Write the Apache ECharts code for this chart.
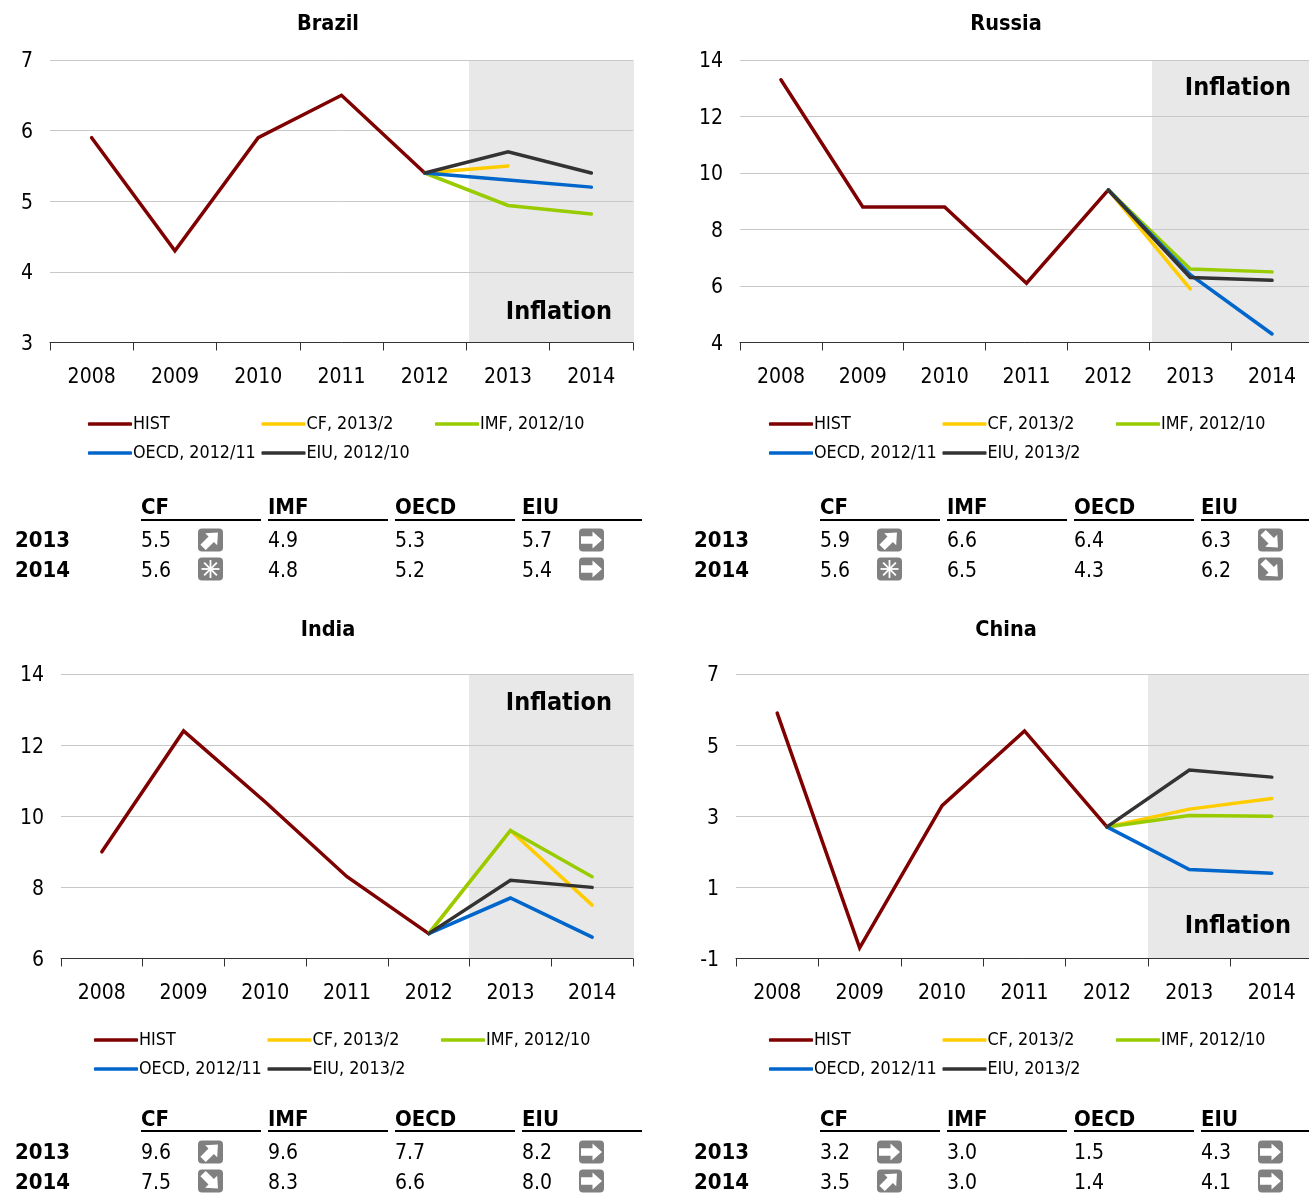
<!DOCTYPE html>
<html><head><meta charset="utf-8">
<style>html,body{margin:0;padding:0;background:#fff;overflow:hidden}#c{width:1309px;height:1193px}</style>
<script src="https://cdn.jsdelivr.net/npm/echarts@6/dist/echarts.min.js"></script>
</head><body><div id="c"></div>
<script>
const years = ['2008','2009','2010','2011','2012','2013','2014'];
const sources = ['CF','IMF','OECD','EIU'];
const rowYears = ['2013','2014'];

const brazilHist = [5.9,4.3,5.9,6.5,5.4,null,null];
const brazilCF   = [null,null,null,null,5.4,5.5,null];
const brazilIMF  = [null,null,null,null,5.4,4.94,4.82];
const brazilOECD = [null,null,null,null,5.4,5.3,5.2];
const brazilEIU  = [null,null,null,null,5.4,5.7,5.4];
const brazilTable = [['5.5','4.9','5.3','5.7'],['5.6','4.8','5.2','5.4']];
const brazilIcons = [['up',null,null,'flat'],['new',null,null,'flat']];
const brazilDates = ['HIST','CF, 2013/2','IMF, 2012/10','OECD, 2012/11','EIU, 2012/10'];

const russiaHist = [13.3,8.8,8.8,6.1,9.4,null,null];
const russiaCF   = [null,null,null,null,9.4,5.9,null];
const russiaIMF  = [null,null,null,null,9.4,6.6,6.5];
const russiaOECD = [null,null,null,null,9.4,6.4,4.3];
const russiaEIU  = [null,null,null,null,9.4,6.3,6.2];
const russiaTable = [['5.9','6.6','6.4','6.3'],['5.6','6.5','4.3','6.2']];
const russiaIcons = [['up',null,null,'down'],['new',null,null,'down']];
const russiaDates = ['HIST','CF, 2013/2','IMF, 2012/10','OECD, 2012/11','EIU, 2013/2'];

const indiaHist = [9.0,12.4,10.4,8.3,6.7,null,null];
const indiaCF   = [null,null,null,null,6.7,9.6,7.5];
const indiaIMF  = [null,null,null,null,6.7,9.6,8.3];
const indiaOECD = [null,null,null,null,6.7,7.7,6.6];
const indiaEIU  = [null,null,null,null,6.7,8.2,8.0];
const indiaTable = [['9.6','9.6','7.7','8.2'],['7.5','8.3','6.6','8.0']];
const indiaIcons = [['up',null,null,'flat'],['down',null,null,'flat']];
const indiaDates = ['HIST','CF, 2013/2','IMF, 2012/10','OECD, 2012/11','EIU, 2013/2'];

const chinaHist = [5.9,-0.7,3.3,5.4,2.7,null,null];
const chinaCF   = [null,null,null,null,2.7,3.2,3.5];
const chinaIMF  = [null,null,null,null,2.7,3.02,3.0];
const chinaOECD = [null,null,null,null,2.7,1.5,1.4];
const chinaEIU  = [null,null,null,null,2.7,4.3,4.1];
const chinaTable = [['3.2','3.0','1.5','4.3'],['3.5','3.0','1.4','4.1']];
const chinaIcons = [['flat',null,null,'flat'],['up',null,null,'flat']];
const chinaDates = ['HIST','CF, 2013/2','IMF, 2012/10','OECD, 2012/11','EIU, 2013/2'];

const lineColors = ['#7f0000','#ffcc00','#99cc00','#0066cc','#333333'];
const FONT = '"DejaVu Sans Condensed","DejaVu Sans",sans-serif';

const panels = [
 {name:'Brazil',cx:328,titleY:23,left:50,right:633,top:60,bottom:342.5,shade:469,min:3,max:7,ticks:[3,4,5,6,7],
  lines:[brazilHist,brazilCF,brazilIMF,brazilOECD,brazilEIU],labels:brazilDates,table:brazilTable,icons:brazilIcons,
  infX:612,infY:311,legX:88,legY:423,legDY:29,tabX:141,yearX:15,headY:507,lineY:520,row1:540,row2:570},
 {name:'Russia',cx:1006,titleY:23,left:740,right:1313,top:60,bottom:342.5,shade:1152,min:4,max:14,ticks:[4,6,8,10,12,14],
  lines:[russiaHist,russiaCF,russiaIMF,russiaOECD,russiaEIU],labels:russiaDates,table:russiaTable,icons:russiaIcons,
  infX:1291,infY:87,legX:769,legY:423,legDY:29,tabX:820,yearX:694,headY:507,lineY:520,row1:540,row2:570},
 {name:'India',cx:328,titleY:629,left:61,right:633,top:674,bottom:958.5,shade:469,min:6,max:14,ticks:[6,8,10,12,14],
  lines:[indiaHist,indiaCF,indiaIMF,indiaOECD,indiaEIU],labels:indiaDates,table:indiaTable,icons:indiaIcons,
  infX:612,infY:702,legX:94,legY:1039,legDY:29,tabX:141,yearX:15,headY:1119,lineY:1131,row1:1152,row2:1182},
 {name:'China',cx:1006,titleY:629,left:736,right:1313,top:674,bottom:958.5,shade:1148,min:-1,max:7,ticks:[-1,1,3,5,7],
  lines:[chinaHist,chinaCF,chinaIMF,chinaOECD,chinaEIU],labels:chinaDates,table:chinaTable,icons:chinaIcons,
  infX:1291,infY:925,legX:769,legY:1039,legDY:29,tabX:820,yearX:694,headY:1119,lineY:1131,row1:1152,row2:1182}
];

function icon(kind,x,y){
  const children=[{type:'rect',shape:{x:-12.5,y:-11.5,width:25,height:23,r:4},style:{fill:'#808080'}}];
  if(kind==='new'){
    for(let i=0;i<4;i++){
      children.push({type:'line',rotation:i*Math.PI/4,shape:{x1:-9,y1:0,x2:9,y2:0},style:{stroke:'#fff',lineWidth:1.8}});
    }
  }else{
    const rot={flat:0,up:Math.PI/4,down:-Math.PI/4}[kind];
    children.push({type:'polygon',rotation:rot,
      shape:{points:[[-10.5,-3.8],[1,-3.8],[1,-8.5],[10.5,0],[1,8.5],[1,3.8],[-10.5,3.8]]},style:{fill:'#fff'}});
  }
  return {type:'group',x,y,children};
}
function txt(text,x,y,size,bold,align){
  return {type:'text',x,y:y+(bold?1:2),z:5,style:{text,font:(bold?'bold ':'')+size+'px '+FONT,fill:'#000',
    textAlign:align||'left',textVerticalAlign:'middle'}};
}

const grid=[],xAxis=[],yAxis=[],series=[],legend=[],title=[],graphic=[];
panels.forEach((p,i)=>{
  grid.push({left:p.left,top:p.top,width:p.right-p.left,height:p.bottom-p.top,outerBoundsMode:'none',containLabel:false});
  xAxis.push({type:'category',gridIndex:i,data:years,boundaryGap:true,
    axisLine:{onZero:false,lineStyle:{color:'#333',width:1}},
    axisTick:{show:true,length:8,inside:false,alignWithLabel:false,lineStyle:{color:'#333'}},
    axisLabel:{interval:0,margin:25,fontSize:21,fontFamily:FONT,color:'#000'},splitLine:{show:false}});
  yAxis.push({type:'value',gridIndex:i,min:p.min,max:p.max,
    axisLine:{show:false},axisTick:{show:false,customValues:p.ticks},
    axisLabel:{customValues:p.ticks,margin:17,formatter:'{a|{value}}',
      rich:{a:{fontSize:21,fontFamily:FONT,color:'#000',padding:[4,0,0,0]}}},
    splitLine:{show:true,lineStyle:{color:'#c8c8c8',width:1}}});
  graphic.push({type:'rect',z:-1,shape:{x:p.shade,y:p.top,width:Math.min(p.right+1,1309)-p.shade,height:p.bottom-p.top},style:{fill:'#e8e8e8'}});
  p.lines.forEach((d,k)=>{
    series.push({name:p.labels[k],type:'line',xAxisIndex:i,yAxisIndex:i,data:d,symbol:'none',
      connectNulls:false,animation:false,z:3+k,
      lineStyle:{color:lineColors[k],width:3.5,cap:'round',join:'miter'},itemStyle:{color:lineColors[k]}});
    const col=k<3?k:k-3, row=k<3?0:1;
    legend.push({data:[{name:p.labels[k],icon:'roundRect',itemStyle:{color:lineColors[k]}}],selectedMode:false,
      left:p.legX+col*173.5,top:p.legY+row*p.legDY-8,padding:0,itemWidth:44,itemHeight:3.5,
      textStyle:{fontSize:17.8,fontFamily:FONT,color:'#000',padding:[3,0,0,-4]}});
  });
  title.push({text:p.name,left:p.cx,top:p.titleY-11,textAlign:'center',padding:0,
    textStyle:{fontSize:21.5,fontWeight:'bold',fontFamily:FONT,color:'#000',lineHeight:24}});
  graphic.push(txt('Inflation',p.infX,p.infY,25,true,'right'));
  sources.forEach((s,c)=>{
    const x=p.tabX+c*127;
    graphic.push(txt(s,x,p.headY,22,true));
    graphic.push({type:'line',shape:{x1:x,y1:p.lineY,x2:x+120,y2:p.lineY},style:{stroke:'#000',lineWidth:2}});
    [p.row1,p.row2].forEach((y,r)=>{
      graphic.push(txt(p.table[r][c],x,y,21,false));
      if(p.icons[r][c]) graphic.push(icon(p.icons[r][c],x+69.5,y-(r?1:0)));
    });
  });
  rowYears.forEach((y,r)=>graphic.push(txt(y,p.yearX,r?p.row2:p.row1,22,true)));
});

const chart=echarts.init(document.getElementById('c'),null,{renderer:'canvas'});
chart.setOption({animation:false,backgroundColor:'#fff',tooltip:{show:false},title,grid,xAxis,yAxis,legend,series,graphic:{elements:graphic}});
</script></body></html>
